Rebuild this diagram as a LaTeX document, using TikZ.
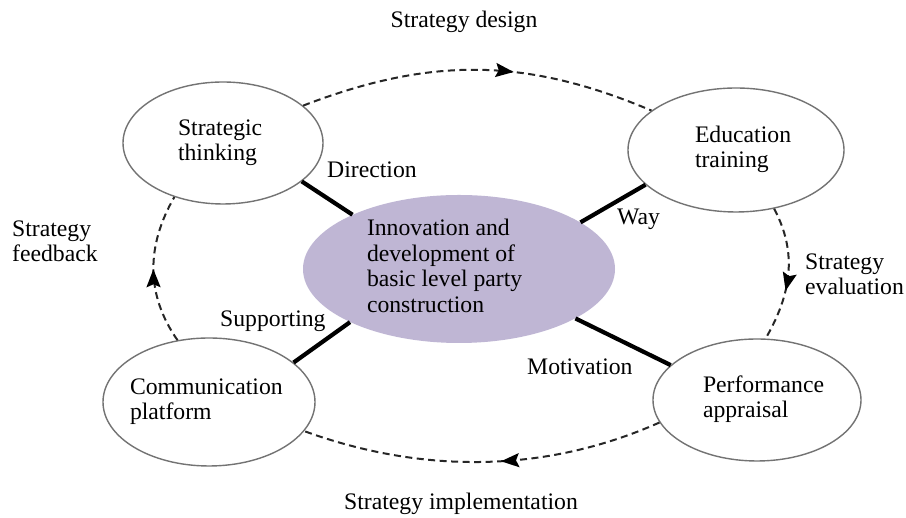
\documentclass[tikz,border=0pt]{standalone}
\usepackage{fontspec}
\setmainfont{Liberation Serif}
\usetikzlibrary{shapes.geometric,arrows.meta,decorations.markings}
\definecolor{lav}{RGB}{191,182,212}
\definecolor{rim}{RGB}{115,115,115}
\newcommand{\inbox}[2]{\makebox[0pt][l]{\hspace*{-#1pt}\begin{tabular}[c]{@{}l@{}}#2\end{tabular}}}
\tikzset{
  oval/.style={ellipse, draw=rim, line width=1.4pt, fill=white, inner sep=0pt},
  core/.style={ellipse, fill=lav, inner sep=0pt},
  link/.style={line width=4.2pt, black},
  cycle/.style={dash pattern=on 7pt off 4.5pt, line width=2pt, black!85},
  midarrow/.style={postaction={decorate,decoration={markings,
     mark=at position #1 with {\arrow[solid,black]{Stealth[length=18pt,width=14pt,inset=3pt]}}}}},
  lbl/.style={inner sep=0pt, anchor=base west},
}
\begin{document}
\begin{tikzpicture}[x=1pt,y=1pt,font=\fontsize{23.7}{24.5}\selectfont]
\useasboundingbox (0,0) rectangle (906,518);
\fill[white] (0,0) rectangle (906,518);

\node[core, minimum width=312pt, minimum height=148pt] (cen) at (459,249)
  {\fontsize{23.7}{25.5}\selectfont\raisebox{-3pt}{\inbox{92}{Innovation and\\development of\\basic level party\\construction}}};

\node[oval, minimum width=200pt, minimum height=122pt] (st) at (223,375) {\inbox{45}{Strategic\\thinking}};
\node[oval, minimum width=216pt, minimum height=124pt] (ed) at (736,368) {\inbox{41}{Education\\training}};
\node[oval, minimum width=212pt, minimum height=128pt] (cm) at (209,116) {\inbox{79}{Communication\\platform}};
\node[oval, minimum width=208pt, minimum height=122pt] (pa) at (757,118) {\inbox{54}{Performance\\appraisal}};

\draw[link] (st.-26) -- (cen.153);
\draw[link] (ed.201) -- (cen.21);
\draw[link] (cm.25) -- (cen.206);
\draw[link] (pa.158) -- (cen.-23);

\draw[cycle, midarrow=0.6] (st.25) to[out=21,in=157] (ed.155);
\draw[cycle, midarrow=0.62] (ed.-57) to[out=-62,in=60] (pa.82);
\draw[cycle, midarrow=0.45] (pa.193) to[out=204,in=340,looseness=0.9] (cm.-17);
\draw[cycle, midarrow=0.5] (cm.117) to[out=125,in=240] (st.228);

\node[lbl] (ldir) at (327,340) {Direction};
\node[lbl] (lway) at (617,293) {Way};
\node[lbl] (lsup) at (220,191) {Supporting};
\node[lbl] (lmot) at (527,143) {Motivation};
\node[lbl] (leva) at (805,248) {\begin{tabular}[t]{@{}l@{}}Strategy\\evaluation\end{tabular}};
\node[lbl] (lfee) at (12,281) {\begin{tabular}[t]{@{}l@{}}Strategy\\feedback\end{tabular}};
\node[inner sep=0pt, anchor=base] (ldes) at (464,490) {Strategy design};
\node[inner sep=0pt, anchor=base] (limp) at (461,8) {Strategy implementation};
\end{tikzpicture}
\end{document}
